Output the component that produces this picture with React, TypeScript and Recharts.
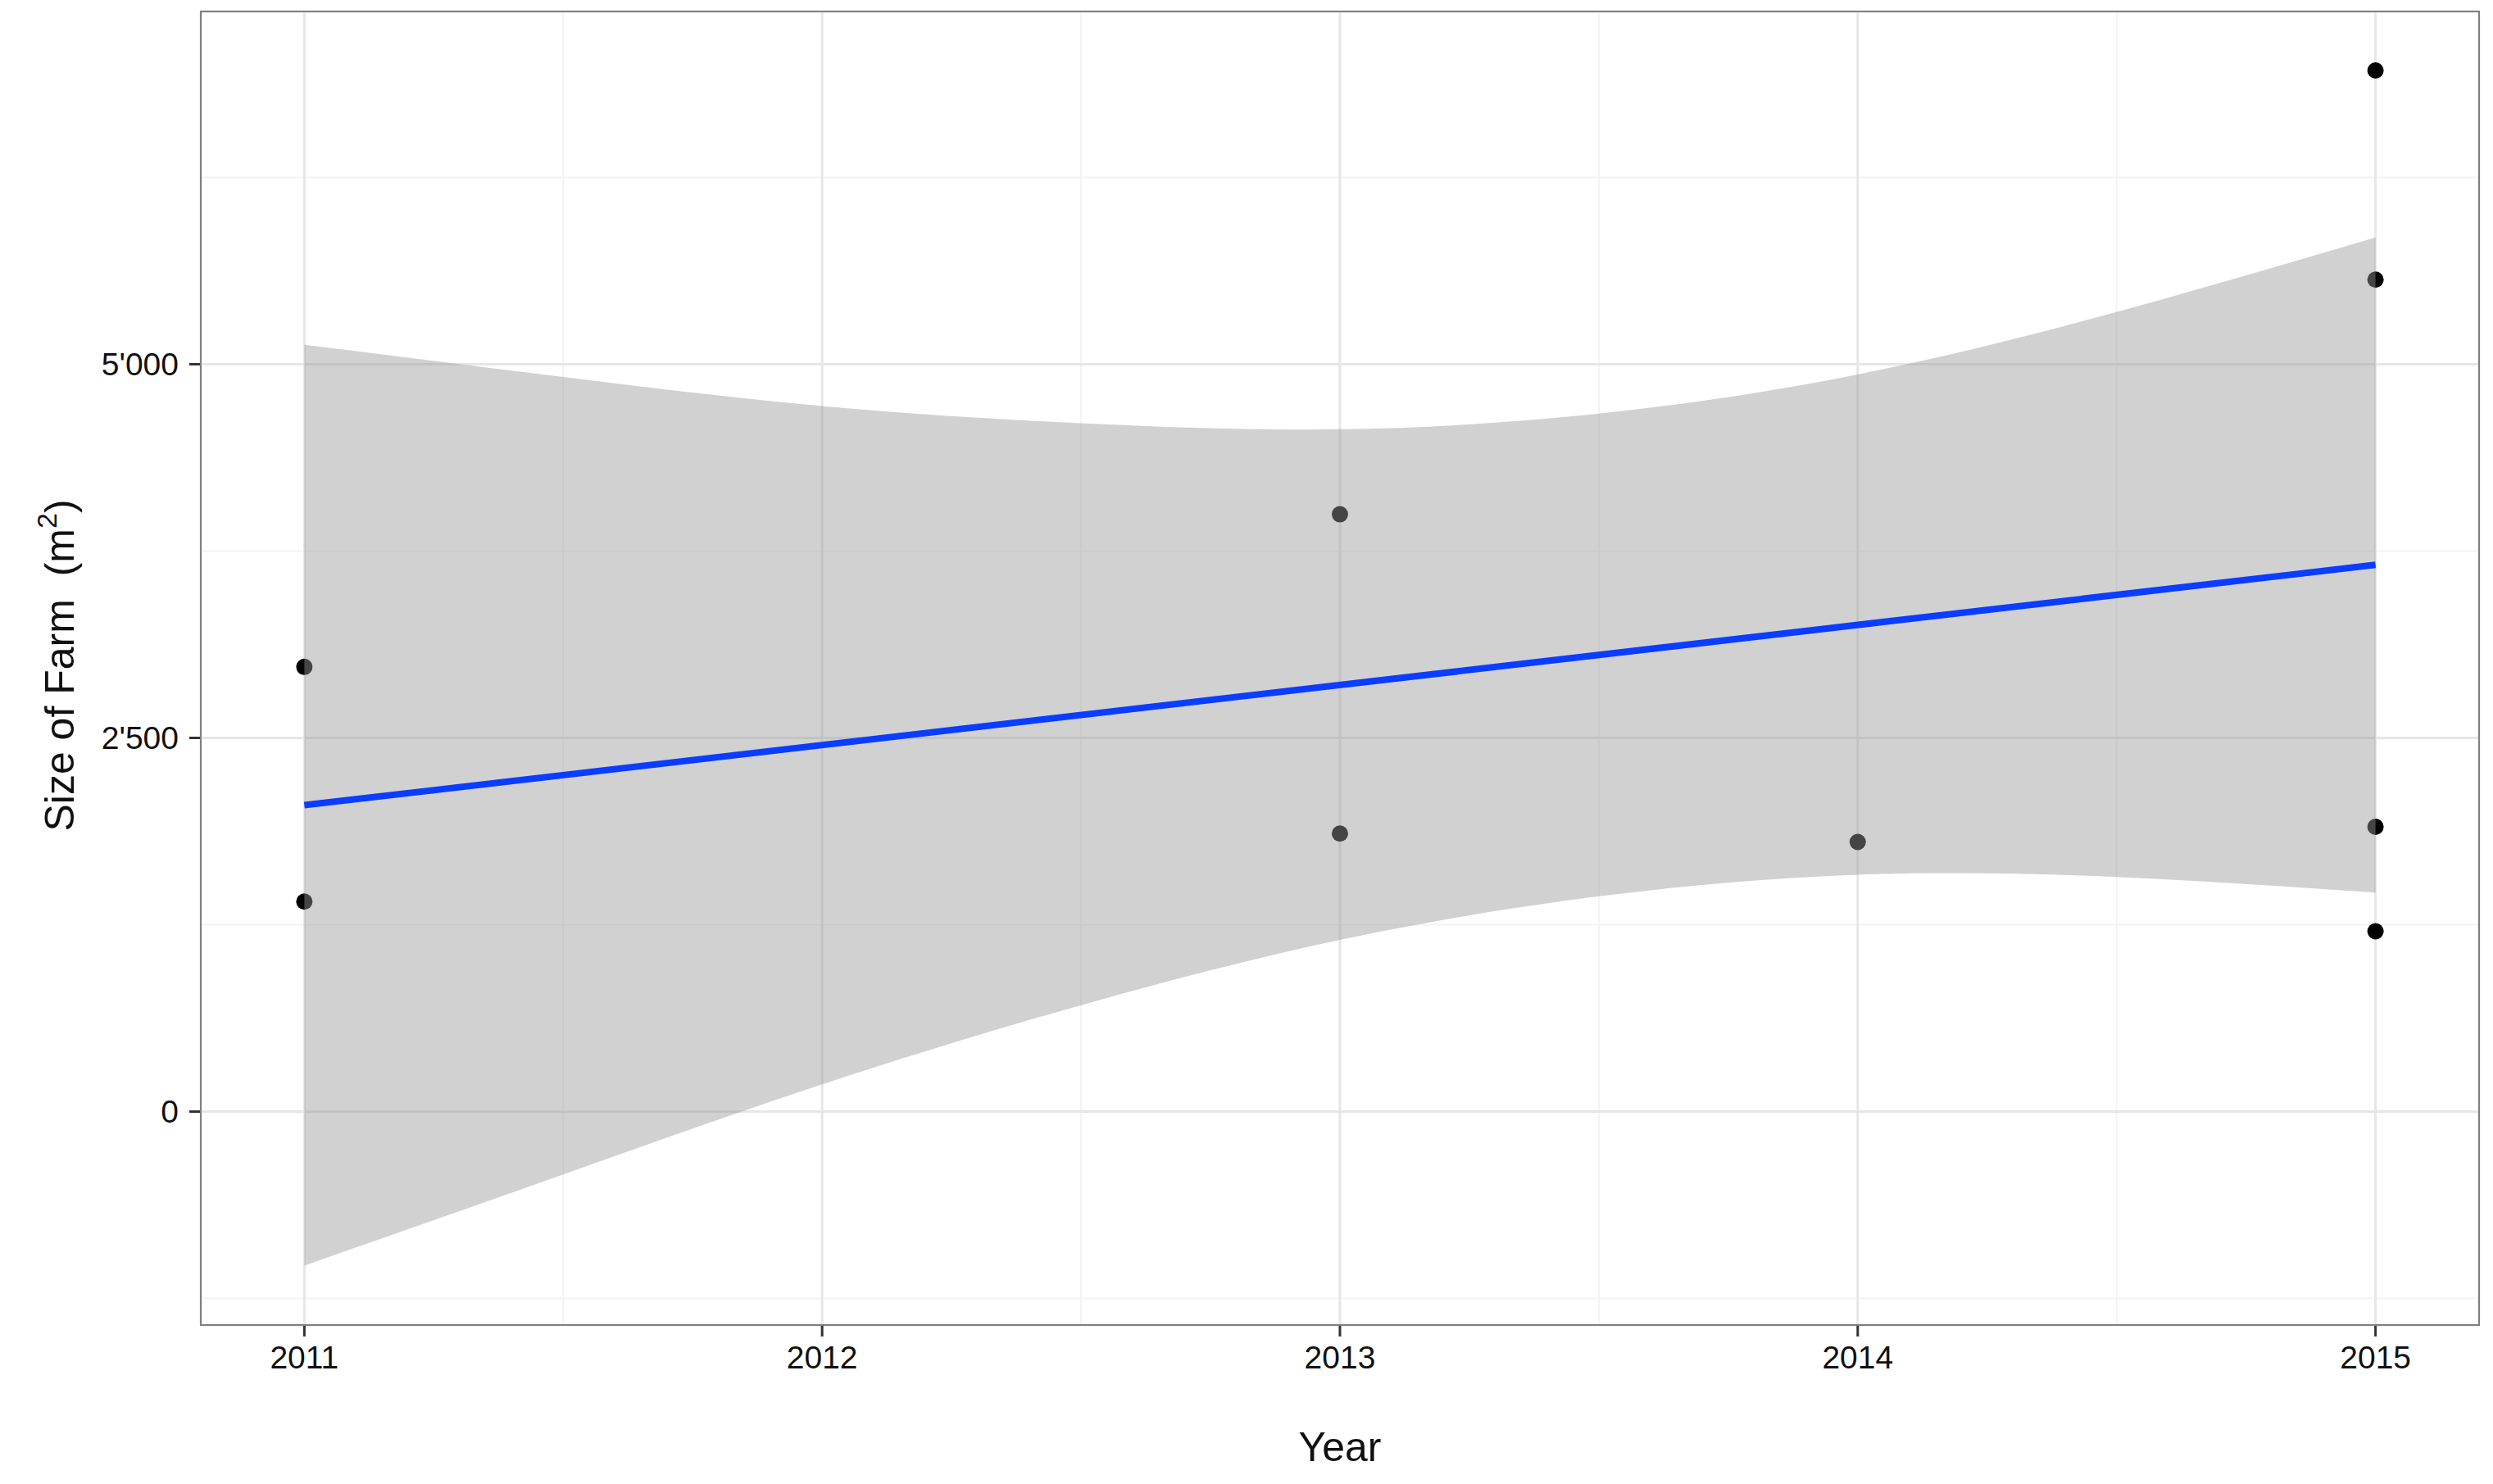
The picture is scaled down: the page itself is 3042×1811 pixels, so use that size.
import { Area, CartesianGrid, ComposedChart, Line, Scatter, XAxis, YAxis } from 'recharts';

// observations
const pointYears = [2011, 2011, 2013, 2013, 2014, 2015, 2015, 2015, 2015];
const pointSizes = [2975, 1405, 3996, 1860, 1804, 6965, 5566, 1905, 1206];

// fitted line (read at the ends)
const fitYears = [2011, 2015];
const fitValues = [2050, 3658];

// confidence band
const bandYears = [2011, 2011.5, 2012, 2012.5, 2013, 2013.5, 2014, 2014.5, 2015];
const bandUpper = [5130, 4915, 4720, 4605, 4565, 4670, 4932, 5350, 5848];
const bandLower = [-1030, -420, 182, 712, 1148, 1440, 1585, 1570, 1465];

const yearTicks = [2011, 2012, 2013, 2014, 2015];
const minorYearTicks = [2011.5, 2012.5, 2013.5, 2014.5];
const sizeTicks = [0, 2500, 5000];
const minorSizeTicks = [-1250, 1250, 3750, 6250];

const xDomain = [2010.8, 2015.2];
const yDomain = [-1428, 7360];

const pointData = pointYears.map((year, i) => ({ year, size: pointSizes[i] }));
const fitData = fitYears.map((year, i) => ({ year, fit: fitValues[i] }));
const bandData = bandYears.map((year, i) => ({ year, band: [bandLower[i], bandUpper[i]] }));

const FONT = '"Liberation Sans", Arial, Helvetica, sans-serif';

const formatSize = (v: number) =>
  Math.abs(v) >= 1000 ? `${Math.floor(v / 1000)}'${String(v % 1000).padStart(3, '0')}` : `${v}`;

const Dot = (props: any) => <circle cx={props.cx} cy={props.cy} r={10} fill="#000" />;

export default function App() {
  const tickStyle = { fontSize: 39, fill: '#111', fontFamily: FONT };
  const tickLine = { stroke: '#333', strokeWidth: 3 };

  return (
    <div style={{ position: 'absolute', left: 0, top: 0, width: 3042, height: 1811, background: '#fff', fontFamily: FONT }}>
      <ComposedChart width={3042} height={1811} margin={{ top: 14, right: 17, bottom: 0, left: 0 }}>
        {/* minor grid */}
        <CartesianGrid xAxisId="minor" yAxisId="minor" stroke="#f3f3f3" strokeWidth={2} />
        <CartesianGrid stroke="#e6e6e6" strokeWidth={3} />

        <XAxis
          dataKey="year"
          type="number"
          domain={xDomain}
          ticks={yearTicks}
          allowDataOverflow
          height={194}
          axisLine={false}
          tickLine={tickLine}
          tickSize={14}
          tickMargin={11}
          tick={tickStyle}
        />
        <XAxis xAxisId="minor" dataKey="year" type="number" domain={xDomain} ticks={minorYearTicks} allowDataOverflow hide />
        <YAxis
          type="number"
          domain={yDomain}
          ticks={sizeTicks}
          allowDataOverflow
          width={245}
          axisLine={false}
          tickLine={tickLine}
          tickSize={14}
          tickMargin={13}
          tick={tickStyle}
          tickFormatter={formatSize}
        />
        <YAxis yAxisId="minor" type="number" domain={yDomain} ticks={minorSizeTicks} allowDataOverflow hide />

        <Scatter data={pointData} dataKey="size" shape={Dot} isAnimationActive={false} zIndex={50} />
        <Area
          data={bandData}
          dataKey="band"
          type="natural"
          stroke="none"
          fill="#999999"
          fillOpacity={0.45}
          dot={false}
          activeDot={false}
          isAnimationActive={false}
        />
        <Line
          data={fitData}
          dataKey="fit"
          type="linear"
          stroke="#0a3dff"
          strokeWidth={8}
          dot={false}
          activeDot={false}
          isAnimationActive={false}
        />
      </ComposedChart>

      {/* panel border */}
      <div
        style={{
          position: 'absolute',
          left: 244,
          top: 13,
          width: 2782,
          height: 1605,
          border: '2px solid #7f7f7f',
          boxSizing: 'border-box',
          pointerEvents: 'none',
        }}
      />

      <div
        style={{
          position: 'absolute',
          left: 1635,
          top: 1766,
          transform: 'translate(-50%, -50%)',
          fontSize: 50,
          lineHeight: 1,
          color: '#111',
          whiteSpace: 'nowrap',
        }}
      >
        Year
      </div>
      <div
        style={{
          position: 'absolute',
          left: 69,
          top: 812,
          transform: 'translate(-50%, -50%) rotate(-90deg)',
          fontSize: 50,
          lineHeight: 1,
          color: '#111',
          whiteSpace: 'nowrap',
        }}
      >
        Size of Farm{'\u00a0\u00a0'}(m<span style={{ fontSize: 34, verticalAlign: '0.6em' }}>2</span>)
      </div>
    </div>
  );
}
